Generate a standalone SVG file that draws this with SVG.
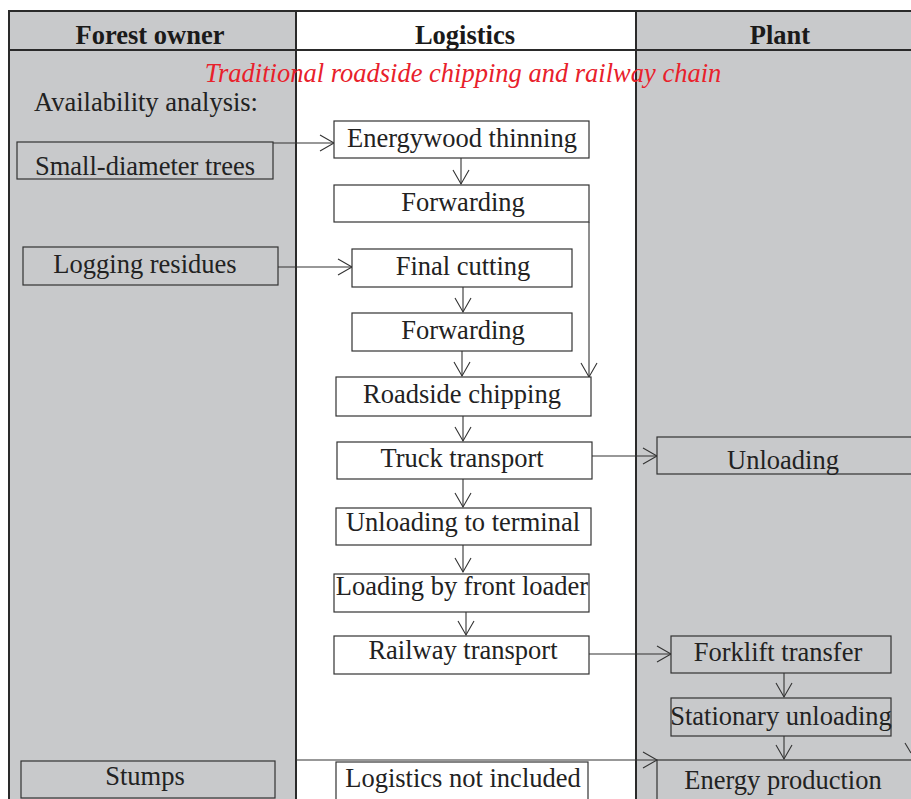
<svg xmlns="http://www.w3.org/2000/svg" width="911" height="799" viewBox="0 0 911 799">
<style>
.col{fill:#c8c9cb;stroke:none}
.frame{stroke:#2a2a2a;stroke-width:2;fill:none}
.box{fill:#fff;stroke:#333;stroke-width:1.2}
.gbox{fill:#c8c9cb;stroke:#333;stroke-width:1.2}
.t{font-family:"Liberation Serif","Times New Roman",serif;font-size:26.5px;fill:#222;text-anchor:middle}
.h{font-family:"Liberation Serif","Times New Roman",serif;font-size:26.5px;font-weight:bold;fill:#1a1a1a;text-anchor:middle}
.c{stroke:#333;stroke-width:1.1;fill:none;marker-end:url(#ah)}
</style>
<defs>
<marker id="ah" markerUnits="userSpaceOnUse" markerWidth="20" markerHeight="20" viewBox="-16 -10 18 20" refX="0" refY="0" orient="auto">
<path d="M-14,-8 L0,0 L-14,8" fill="none" stroke="#333" stroke-width="1.1"/>
</marker>
</defs>
<rect width="911" height="799" fill="#fff"/>
<g id="lanes">
<rect class="col" x="8" y="10" width="288" height="789"/>
<rect class="col" x="636" y="10" width="275" height="789"/>
<line class="frame" x1="8" y1="11" x2="911" y2="11"/>
<line class="frame" x1="8" y1="50" x2="911" y2="50"/>
<line class="frame" x1="9" y1="10" x2="9" y2="799"/>
<line class="frame" x1="296" y1="10" x2="296" y2="799"/>
<line class="frame" x1="636" y1="10" x2="636" y2="799"/>
<text class="h" x="150" y="44">Forest owner</text>
<text class="h" x="465" y="44">Logistics</text>
<text class="h" x="780" y="44">Plant</text>
</g>
<text x="463" y="82" font-family="'Liberation Serif','Times New Roman',serif" font-style="italic" font-size="26.5" fill="#e8212b" text-anchor="middle">Traditional roadside chipping and railway chain</text>
<text x="34" y="111" font-family="'Liberation Serif','Times New Roman',serif" font-size="26.5" fill="#222">Availability analysis:</text>
<g id="connectors">
<line class="c" x1="273" y1="143" x2="334" y2="143"/>
<line class="c" x1="278" y1="267" x2="352" y2="267"/>
<line class="c" x1="461" y1="158" x2="461" y2="184"/>
<line class="c" x1="589" y1="222" x2="589" y2="377"/>
<line class="c" x1="463" y1="287" x2="463" y2="312"/>
<line class="c" x1="462" y1="351" x2="462" y2="376"/>
<line class="c" x1="463" y1="416" x2="463" y2="441"/>
<line class="c" x1="592" y1="456" x2="657" y2="456"/>
<line class="c" x1="463" y1="479" x2="463" y2="507"/>
<line class="c" x1="463" y1="545" x2="463" y2="572"/>
<line class="c" x1="466" y1="612" x2="466" y2="635"/>
<line class="c" x1="589" y1="654" x2="671" y2="654"/>
<line class="c" x1="784" y1="673" x2="784" y2="697"/>
<line class="c" x1="784" y1="736" x2="784" y2="759"/>
<line class="c" x1="296" y1="760" x2="657" y2="760"/>
<line x1="905" y1="743" x2="911" y2="753" stroke="#333" stroke-width="1.1"/>
</g>
<g id="n-small"><rect class="gbox" x="17" y="142" width="256" height="37"/><text class="t" x="145" y="175">Small-diameter trees</text></g>
<g id="n-residues"><rect class="gbox" x="23" y="247" width="255" height="38"/><text class="t" x="145" y="273">Logging residues</text></g>
<g id="n-stumps"><rect class="gbox" x="21" y="761" width="254" height="37"/><text class="t" x="145" y="785">Stumps</text></g>
<g id="n-thinning"><rect class="box" x="334" y="121" width="255" height="37"/><text class="t" x="462" y="147">Energywood thinning</text></g>
<g id="n-fwd1"><rect class="box" x="334" y="185" width="255" height="37"/><text class="t" x="463" y="211">Forwarding</text></g>
<g id="n-final"><rect class="box" x="352" y="249" width="220" height="38"/><text class="t" x="463" y="275">Final cutting</text></g>
<g id="n-fwd2"><rect class="box" x="352" y="313" width="220" height="38"/><text class="t" x="463" y="339">Forwarding</text></g>
<g id="n-chip"><rect class="box" x="336" y="377" width="255" height="39"/><text class="t" x="462" y="403">Roadside chipping</text></g>
<g id="n-truck"><rect class="box" x="337" y="442" width="255" height="37"/><text class="t" x="462" y="467">Truck transport</text></g>
<g id="n-unterm"><rect class="box" x="336" y="508" width="255" height="37"/><text class="t" x="463" y="531">Unloading to terminal</text></g>
<g id="n-front"><rect class="box" x="334" y="574" width="255" height="38"/><text class="t" x="462" y="595">Loading by front loader</text></g>
<g id="n-rail"><rect class="box" x="334" y="636" width="255" height="38"/><text class="t" x="463" y="659">Railway transport</text></g>
<g id="n-notincl"><rect class="box" x="336" y="762" width="252" height="40"/><text class="t" x="463" y="787">Logistics not included</text></g>
<g id="n-unload"><rect class="gbox" x="657" y="437" width="256" height="37"/><text class="t" x="783" y="469">Unloading</text></g>
<g id="n-forklift"><rect class="gbox" x="671" y="636" width="220" height="37"/><text class="t" x="778" y="661">Forklift transfer</text></g>
<g id="n-stat"><rect class="gbox" x="671" y="698" width="220" height="38"/><text class="t" x="781" y="725">Stationary unloading</text></g>
<g id="n-energy"><rect class="gbox" x="657" y="760" width="256" height="42"/><text class="t" x="783" y="789">Energy production</text></g>
</svg>
